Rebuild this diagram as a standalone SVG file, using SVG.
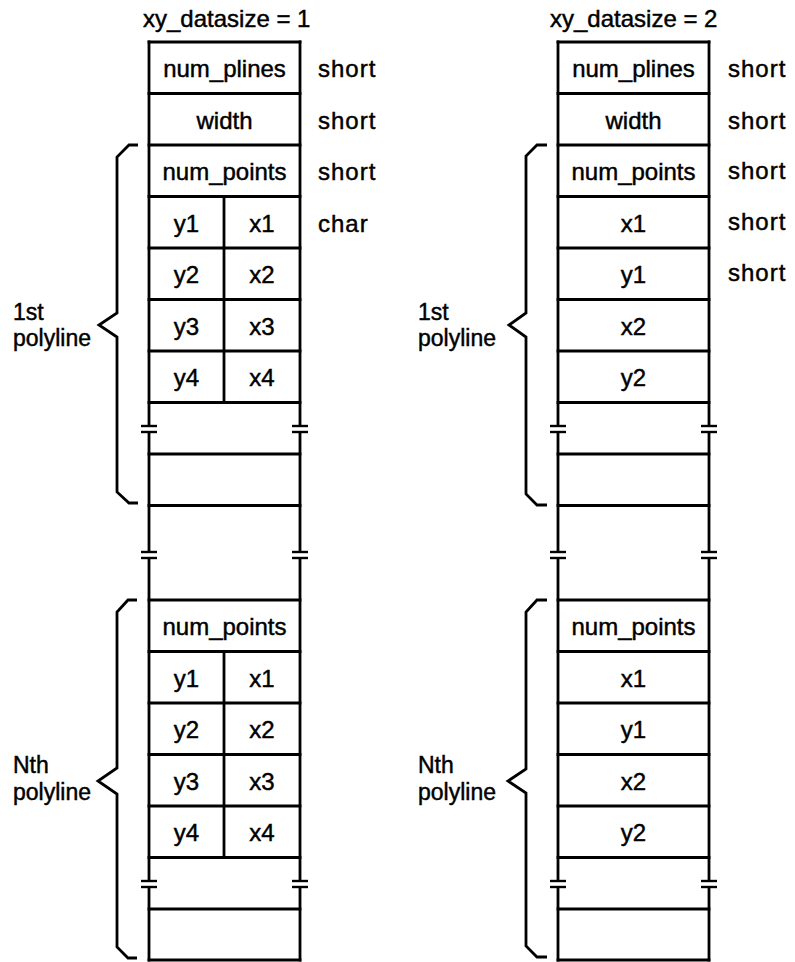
<svg xmlns="http://www.w3.org/2000/svg" xmlns:xlink="http://www.w3.org/1999/xlink" width="795" height="962" viewBox="0 0 795 962">
  <style>
    text { font-family: "Liberation Sans", Arial, Helvetica, sans-serif; font-size: 24px; fill: #000; stroke: #000; stroke-width: 0.45; }
    .c { text-anchor: middle; }
    .t { letter-spacing: 1px; }
    .ln { stroke: #000; stroke-width: 2.8; fill: none; stroke-linecap: square; }
    .br { stroke: #000; stroke-width: 2.8; fill: none; stroke-linejoin: miter; }
    .lbl { font-size: 23px; }
  </style>
  <defs>
    <!-- break mark: gap in a vertical line with two short bars -->
    <g id="brk">
      <rect x="-3" y="-2.4" width="6" height="4.8" fill="#fff"/>
      <line x1="-8" y1="-3" x2="8" y2="-3" stroke="#000" stroke-width="2.4"/>
      <line x1="-8" y1="3" x2="8" y2="3" stroke="#000" stroke-width="2.4"/>
    </g>
  </defs>
  <rect width="795" height="962" fill="#fff"/>

  <!-- ===== xy_datasize = 1 ===== -->
  <g id="header-1"><text x="143" y="27">xy_datasize = 1</text></g>

  <g id="record-1">
    <line class="ln" x1="149" y1="42" x2="149" y2="960"/>
    <line class="ln" x1="300" y1="42" x2="300" y2="960"/>
    <line class="ln" x1="224" y1="196.5" x2="224" y2="402.5"/>
    <line class="ln" x1="224" y1="651.5" x2="224" y2="857.5"/>
    <path class="ln" d="M149 42H300M149 93.5H300M149 145H300M149 196.5H300M149 248H300M149 299.5H300M149 351H300M149 402.5H300M149 454H300M149 505.5H300
                       M149 600H300M149 651.5H300M149 703H300M149 754.5H300M149 806H300M149 857.5H300M149 909H300M149 960H300"/>
    <use xlink:href="#brk" x="149" y="429"/><use xlink:href="#brk" x="300" y="429"/>
    <use xlink:href="#brk" x="149" y="555"/><use xlink:href="#brk" x="300" y="555"/>
    <use xlink:href="#brk" x="149" y="884"/><use xlink:href="#brk" x="300" y="884"/>
  </g>

  <g id="cells-1a">
    <text class="c" x="224.5" y="77">num_plines</text>
    <text class="c" x="224.5" y="128.5">width</text>
    <text class="c" x="224.5" y="180">num_points</text>
    <text class="c" x="186.5" y="231.5">y1</text><text class="c" x="262" y="231.5">x1</text>
    <text class="c" x="186.5" y="283">y2</text><text class="c" x="262" y="283">x2</text>
    <text class="c" x="186.5" y="334.5">y3</text><text class="c" x="262" y="334.5">x3</text>
    <text class="c" x="186.5" y="386">y4</text><text class="c" x="262" y="386">x4</text>
  </g>
  <g id="types-1">
    <text class="t" x="318" y="77">short</text>
    <text class="t" x="318" y="128.5">short</text>
    <text class="t" x="318" y="180">short</text>
    <text class="t" x="318" y="231.5">char</text>
  </g>
  <g id="cells-1n">
    <text class="c" x="224.5" y="635">num_points</text>
    <text class="c" x="186.5" y="686.5">y1</text><text class="c" x="262" y="686.5">x1</text>
    <text class="c" x="186.5" y="738">y2</text><text class="c" x="262" y="738">x2</text>
    <text class="c" x="186.5" y="789.5">y3</text><text class="c" x="262" y="789.5">x3</text>
    <text class="c" x="186.5" y="841">y4</text><text class="c" x="262" y="841">x4</text>
  </g>
  <g id="label-1a"><text class="lbl" x="13" y="320">1st</text><text class="lbl" x="13" y="346">polyline</text></g>
  <g id="label-1n"><text class="lbl" x="13" y="773">Nth</text><text class="lbl" x="13" y="800">polyline</text></g>

  <!-- ===== xy_datasize = 2 ===== -->
  <g id="header-2"><text x="550" y="27">xy_datasize = 2</text></g>

  <g id="record-2">
    <line class="ln" x1="558" y1="42" x2="558" y2="960"/>
    <line class="ln" x1="709" y1="42" x2="709" y2="960"/>
    <path class="ln" d="M558 42H709M558 93.5H709M558 145H709M558 196.5H709M558 248H709M558 299.5H709M558 351H709M558 402.5H709M558 454H709M558 505.5H709
                       M558 600H709M558 651.5H709M558 703H709M558 754.5H709M558 806H709M558 857.5H709M558 909H709M558 960H709"/>
    <use xlink:href="#brk" x="558" y="429"/><use xlink:href="#brk" x="709" y="429"/>
    <use xlink:href="#brk" x="558" y="555"/><use xlink:href="#brk" x="709" y="555"/>
    <use xlink:href="#brk" x="558" y="884"/><use xlink:href="#brk" x="709" y="884"/>
  </g>

  <g id="cells-2a">
    <text class="c" x="633.5" y="77">num_plines</text>
    <text class="c" x="633.5" y="128.5">width</text>
    <text class="c" x="633.5" y="180">num_points</text>
    <text class="c" x="633.5" y="231.5">x1</text>
    <text class="c" x="633.5" y="283">y1</text>
    <text class="c" x="633.5" y="334.5">x2</text>
    <text class="c" x="633.5" y="386">y2</text>
  </g>
  <g id="types-2">
    <text class="t" x="728" y="77">short</text>
    <text class="t" x="728" y="128.5">short</text>
    <text class="t" x="728" y="179">short</text>
    <text class="t" x="728" y="230">short</text>
    <text class="t" x="728" y="281">short</text>
  </g>
  <g id="cells-2n">
    <text class="c" x="633.5" y="635">num_points</text>
    <text class="c" x="633.5" y="686.5">x1</text>
    <text class="c" x="633.5" y="738">y1</text>
    <text class="c" x="633.5" y="789.5">x2</text>
    <text class="c" x="633.5" y="841">y2</text>
  </g>
  <g id="label-2a"><text class="lbl" x="418" y="320">1st</text><text class="lbl" x="418" y="346">polyline</text></g>
  <g id="label-2n"><text class="lbl" x="418" y="773">Nth</text><text class="lbl" x="418" y="800">polyline</text></g>

  <!-- curly braces grouping each polyline's fields -->
  <g id="braces">
    <path class="br" d="M138 145H129L117 157V313L99 325L117 337V492L129 503H138"/>
    <path class="br" d="M137 600H128L117 612V768L98 781L117 794V947L128 958H137"/>
    <path class="br" d="M547 145H537L526 156V313L509 325L526 337V494L537 505H547"/>
    <path class="br" d="M547 600H537L526 612V769L508 781L526 793V946L537 957H547"/>
  </g>
</svg>
